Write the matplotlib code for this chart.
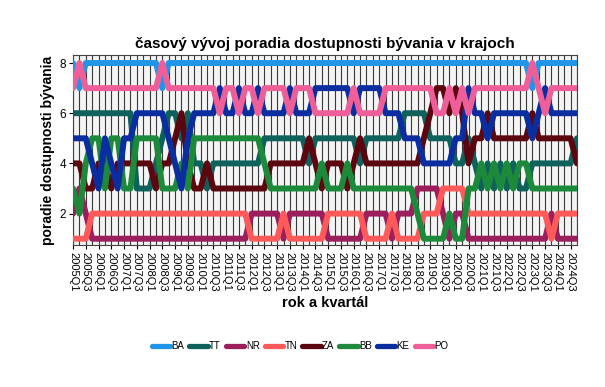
import matplotlib
matplotlib.use("Agg")
import matplotlib.pyplot as plt
from matplotlib.lines import Line2D

plt.rcParams['font.family'] = ['Liberation Sans', 'DejaVu Sans']

# kvartaly 2005Q1 .. 2024Q4
years = list(range(2005, 2025))
quarters = [f"{y}Q{q}" for y in years for q in (1, 2, 3, 4)]

# poradie dostupnosti byvania (1 = najnizsie, 8 = najvyssie)
BA = [8, 7, 8, 8, 8, 8, 8, 8, 8, 8, 8, 8, 8, 8, 7, 8, 8, 8, 8, 8,
      8, 8, 8, 8, 8, 8, 8, 8, 8, 8, 8, 8, 8, 8, 8, 8, 8, 8, 8, 8,
      8, 8, 8, 8, 8, 8, 8, 8, 8, 8, 8, 8, 8, 8, 8, 8, 8, 8, 8, 8,
      8, 8, 8, 8, 8, 8, 8, 8, 8, 8, 8, 8, 7, 8, 8, 8, 8, 8, 8, 8]
TT = [6, 6, 6, 6, 6, 6, 6, 6, 6, 6, 3, 3, 3, 4, 5, 6, 6, 5, 6, 4,
      4, 3, 4, 4, 4, 4, 4, 4, 4, 4, 5, 5, 5, 5, 5, 5, 5, 4, 5, 5,
      5, 5, 5, 5, 5, 4, 5, 5, 5, 5, 5, 5, 6, 6, 6, 6, 5, 5, 5, 5,
      4, 4, 5, 4, 3, 4, 3, 4, 3, 4, 3, 3, 4, 4, 4, 4, 4, 4, 4, 5]
NR = [2, 3, 2, 1, 1, 1, 1, 1, 1, 1, 1, 1, 1, 1, 1, 1, 1, 1, 1, 1,
      1, 1, 1, 1, 1, 1, 1, 1, 2, 2, 2, 2, 2, 1, 2, 2, 2, 2, 2, 2,
      1, 1, 1, 1, 1, 1, 2, 2, 2, 2, 1, 2, 2, 2, 3, 3, 3, 3, 2, 1,
      2, 2, 1, 1, 1, 1, 1, 1, 1, 1, 1, 1, 1, 1, 1, 2, 1, 1, 1, 1]
TN = [1, 1, 1, 2, 2, 2, 2, 2, 2, 2, 2, 2, 2, 2, 2, 2, 2, 2, 2, 2,
      2, 2, 2, 2, 2, 2, 2, 2, 1, 1, 1, 1, 1, 2, 1, 1, 1, 1, 1, 1,
      2, 2, 2, 2, 2, 2, 1, 1, 1, 1, 2, 1, 1, 1, 1, 2, 2, 2, 3, 3,
      3, 3, 2, 2, 2, 2, 2, 2, 2, 2, 2, 2, 2, 2, 2, 1, 2, 2, 2, 2]
ZA = [4, 4, 3, 3, 4, 4, 3, 4, 4, 4, 4, 4, 4, 3, 4, 4, 5, 6, 4, 3,
      3, 4, 3, 3, 3, 3, 3, 3, 3, 3, 3, 4, 4, 4, 4, 4, 4, 5, 4, 3,
      4, 4, 4, 3, 4, 5, 4, 4, 4, 4, 4, 4, 4, 4, 4, 5, 6, 7, 7, 6,
      7, 6, 4, 5, 5, 6, 5, 5, 5, 5, 5, 5, 6, 5, 5, 5, 5, 5, 5, 4]
BB = [3, 2, 4, 5, 5, 3, 5, 5, 3, 3, 5, 5, 5, 5, 3, 3, 3, 4, 3, 5,
      5, 5, 5, 5, 5, 5, 5, 5, 5, 5, 4, 3, 3, 3, 3, 3, 3, 3, 3, 4,
      3, 3, 3, 4, 3, 3, 3, 3, 3, 3, 3, 3, 3, 3, 2, 1, 1, 1, 1, 2,
      1, 1, 3, 3, 4, 3, 4, 3, 4, 3, 4, 4, 3, 3, 3, 3, 3, 3, 3, 3]
KE = [5, 5, 5, 4, 3, 5, 4, 3, 5, 5, 6, 6, 6, 6, 6, 5, 4, 3, 5, 6,
      6, 6, 6, 7, 6, 6, 7, 6, 6, 7, 6, 6, 6, 6, 7, 6, 6, 6, 7, 7,
      7, 7, 7, 7, 6, 7, 7, 7, 7, 6, 6, 6, 5, 5, 5, 4, 4, 4, 4, 4,
      5, 5, 7, 6, 6, 5, 6, 6, 6, 6, 6, 6, 5, 6, 7, 6, 6, 6, 6, 6]
PO = [7, 8, 7, 7, 7, 7, 7, 7, 7, 7, 7, 7, 7, 7, 8, 7, 7, 7, 7, 7,
      7, 7, 7, 6, 7, 7, 6, 7, 7, 6, 7, 7, 7, 7, 6, 7, 7, 7, 6, 6,
      6, 6, 6, 6, 7, 6, 6, 6, 6, 7, 7, 7, 7, 7, 7, 7, 7, 6, 6, 7,
      6, 7, 6, 7, 7, 7, 7, 7, 7, 7, 7, 7, 8, 7, 6, 7, 7, 7, 7, 7]

series = {'BA': BA, 'TT': TT, 'NR': NR, 'TN': TN,
          'ZA': ZA, 'BB': BB, 'KE': KE, 'PO': PO}
colors = {'BA': '#2196e8', 'TT': '#0f625c', 'NR': '#9b1f5c', 'TN': '#ff5a5a',
          'ZA': '#5c0610', 'BB': '#1c8a3a', 'KE': '#0a2ea0', 'PO': '#ee5e98'}

fig = plt.figure(figsize=(6.05, 3.87), dpi=100)
ax = fig.add_axes([0.1207, 0.367, 0.833, 0.4896])
ax.set_facecolor('#f4f4f4')

x = list(range(len(quarters)))
for name, vals in series.items():
    ax.plot(x, vals, color=colors[name], lw=4.3,
            solid_capstyle='round', solid_joinstyle='round', zorder=3)

ax.set_xlim(0, len(quarters) - 1)
ax.set_ylim(0.75, 8.3)
ax.set_xticks(x[::2])
ax.set_xticklabels(quarters[::2], rotation=270, fontsize=8)
ax.set_xticks(x, minor=True)
ax.tick_params(axis='x', which='minor', length=0)
ax.tick_params(axis='x', which='major', length=3, pad=2)
ax.set_yticks([2, 4, 6, 8])
ax.tick_params(axis='y', labelsize=8.5, length=3, pad=2)
ax.grid(axis='x', which='both', color='#3a3a3a', lw=0.8, zorder=1)
ax.set_axisbelow(True)
for s in ax.spines.values():
    s.set_color('#444444')
    s.set_linewidth(0.8)

fig.text(0.537, 0.886, 'časový vývoj poradia dostupnosti bývania v krajoch',
         ha='center', va='center', fontsize=11, fontweight='bold')
ax.set_ylabel('poradie dostupnosti bývania', fontsize=10, fontweight='bold',
              labelpad=3)
fig.text(0.537, 0.218, 'rok a kvartál', ha='center', va='center',
         fontsize=10.5, fontweight='bold')

handles = [Line2D([0], [0], color=colors[n], lw=3.8, solid_capstyle='round')
           for n in series]
fig.legend(handles, list(series), loc='center', bbox_to_anchor=(0.496, 0.106),
           ncol=8, frameon=False, fontsize=7, handlelength=1.9,
           handletextpad=0.15, columnspacing=0.5)

fig.savefig('out.png', dpi=100)
